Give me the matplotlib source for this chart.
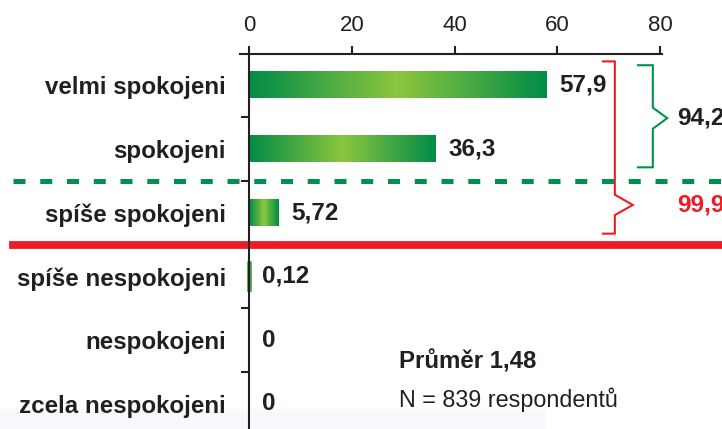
import matplotlib
matplotlib.use('Agg')
import matplotlib.pyplot as plt
import numpy as np
from matplotlib.colors import LinearSegmentedColormap
from matplotlib.lines import Line2D
from matplotlib.transforms import blended_transform_factory
from matplotlib.patches import Rectangle
from matplotlib.ticker import FixedLocator

# ---- data ----
categories = ['velmi spokojeni', 'spokojeni', 'spíše spokojeni',
              'spíše nespokojeni', 'nespokojeni', 'zcela nespokojeni']
values = [57.9, 36.3, 5.72, 0.12, 0, 0]
x_ticks = [0, 20, 40, 60, 80]
mean_score = '1,48'
n_resp = 839

plt.rcParams['font.family'] = ['Liberation Sans', 'DejaVu Sans']

DARK = '#231F20'
GREEN = '#00924A'
RED = '#ED1C24'

fig = plt.figure(figsize=(7.22, 4.29), dpi=100)
ax = fig.add_axes([0.3321, 0, 0.5842, 0.8741])
ax.patch.set_visible(False)

y = np.arange(len(categories))
bar_h = 0.42
cmap = LinearSegmentedColormap.from_list('g', ['#008C48', '#8DC63F', '#008C48'])
grad = np.linspace(0, 1, 256).reshape(1, -1)

bars = ax.barh(y, values, height=bar_h, color='none', edgecolor='none')
for b, v in zip(bars, values):
    if v <= 0:
        continue
    if v < 1:
        ax.barh(b.get_y() + bar_h / 2, v, height=bar_h, color='#3FA540',
                edgecolor='#3FA540', lw=2.6, zorder=2)
    else:
        ax.imshow(grad, cmap=cmap, aspect='auto', interpolation='bicubic',
                  extent=[0, v, b.get_y() + bar_h, b.get_y()], zorder=2)

def fmt(v):
    return f'{v:g}'.replace('.', ',')

for i, v in enumerate(values):
    ax.annotate(fmt(v), xy=(v, i), xytext=(9, 0), textcoords='offset points',
                ha='left', va='center', fontsize=17.5, fontweight='bold',
                color=DARK, annotation_clip=False)

ax.set_xlim(-1.8, 80.3)
ax.set_ylim(5.392, -0.486)

# spines
for s in ['right', 'bottom']:
    ax.spines[s].set_visible(False)
ax.spines['top'].set_linewidth(1.5)
ax.spines['top'].set_color(DARK)
ax.spines['left'].set_position(('data', 0))
ax.spines['left'].set_linewidth(1.5)
ax.spines['left'].set_color(DARK)
ax.spines['left'].set_zorder(6)
ax.spines['top'].set_zorder(6)

ax.xaxis.tick_top()
ax.set_xticks(x_ticks)
ax.set_xticklabels([str(t) for t in x_ticks])
ax.tick_params(axis='x', which='major', direction='out', length=5.8, width=1.5,
               color=DARK, labelsize=16, pad=7.5, labelcolor=DARK)

ax.set_yticks(y)
ax.set_yticklabels(categories, fontsize=17.4, fontweight='bold', color=DARK)
ax.tick_params(axis='y', which='major', length=0, pad=16.5)
ax.yaxis.set_minor_locator(FixedLocator(y[:-1] + 0.5))
ax.tick_params(axis='y', which='minor', length=5.8, width=1.5, color=DARK,
               direction='out')

# separator lines
tr = blended_transform_factory(fig.transFigure, ax.transData)
ax.add_line(Line2D([13 / 722, 1], [1.5, 1.5], transform=tr, color=GREEN,
                   lw=3.6, linestyle=(0, (2.4, 2.95)), clip_on=False, zorder=3))
ax.add_line(Line2D([13 / 722, 1], [2.5, 2.5], transform=tr, color=RED,
                   lw=5.6, clip_on=False, zorder=3))

# braces
def brace(x0, x1, xtip, ytop, ybot, ymid, dy, color):
    xs = [x0, x1, x1, xtip, x1, x1, x0]
    ys = [ytop, ytop, ymid - dy, ymid, ymid + dy, ybot, ybot]
    ax.add_line(Line2D(xs, ys, color=color, lw=1.5, clip_on=False, zorder=4,
                       solid_joinstyle='miter'))

brace(75.7, 78.6, 81.4, 0 - 0.31, 1 + 0.29, 0.52, 0.165, GREEN)
brace(68.9, 71.2, 74.7, 0 - 0.37, 2 + 0.33, 1.88, 0.16, RED)

sum_top2 = sum(values[:2])
sum_top3 = sum(values[:3])
ax.text(83.3, 0.52, f'{sum_top2:.1f}'.replace('.', ','), ha='left', va='center',
        fontsize=17.5, fontweight='bold', color=DARK, clip_on=False)
ax.text(83.3, 1.88, f'{sum_top3:.1f}'.replace('.', ','), ha='left', va='center',
        fontsize=17.5, fontweight='bold', color=RED, clip_on=False)

# notes
fig.text(399 / 722, 1 - 368 / 429, f'Průměr {mean_score}', fontsize=17.3,
         fontweight='bold', color=DARK, va='baseline', ha='left')
fig.text(399 / 722, 1 - 407 / 429, f'N = {n_resp} respondentů', fontsize=16.8,
         color=DARK, va='baseline', ha='left')

fig.add_artist(Rectangle((0, 0), 545 / 722, 20 / 429, transform=fig.transFigure,
                         facecolor='#F8F9FC', edgecolor='none', zorder=-1))

fig.savefig('out.png', dpi=100)
